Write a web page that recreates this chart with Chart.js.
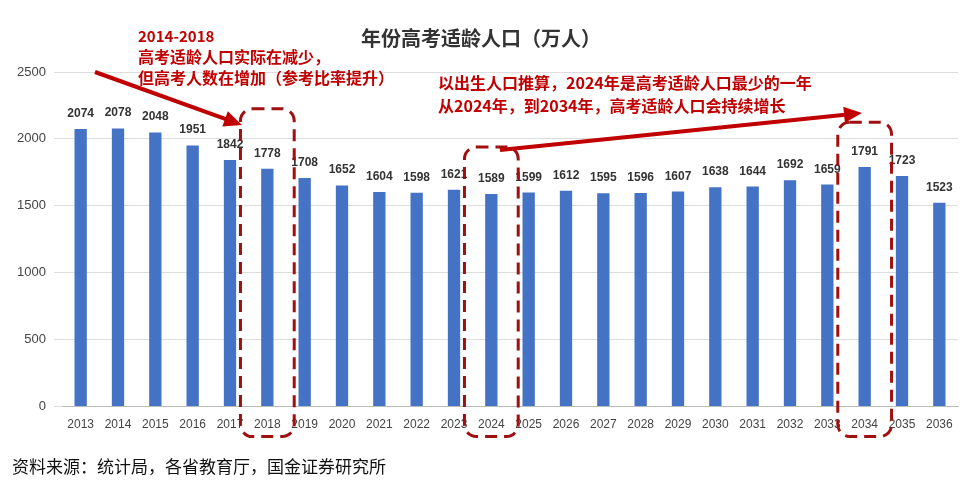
<!DOCTYPE html>
<html><head><meta charset="utf-8">
<script src="https://cdn.jsdelivr.net/npm/chart.js@4"></script>
<style>body{margin:0;background:#fff}#wrap{width:976px;height:480px}</style>
</head><body><div id="wrap"><canvas id="c"></canvas></div>
<script>
const years = ["2013","2014","2015","2016","2017","2018","2019","2020","2021","2022","2023","2024","2025","2026","2027","2028","2029","2030","2031","2032","2033","2034","2035","2036"];
const population = [2074,2078,2048,1951,1842,1778,1708,1652,1604,1598,1621,1589,1599,1612,1595,1596,1607,1638,1644,1692,1659,1791,1723,1523];
const yTicks = [0,500,1000,1500,2000,2500];
// highlighted boxes: category index and top value
const boxes = [{i:5, top:2225}, {i:11, top:1940}, {i:21, top:2125}];
const RED = "#c00000";

const overlay = {
  id: "overlay",
  afterDraw(chart) {
    const {ctx, chartArea: a, scales: {x, y}} = chart;
    const step = x.getPixelForValue(1) - x.getPixelForValue(0);
    ctx.save();
    ctx.strokeStyle = "#a01010";
    ctx.lineWidth = 3;
    ctx.setLineDash([12, 7]);
    boxes.forEach(b => {
      const cx = x.getPixelForValue(b.i);
      const l = cx - step * 0.72, r = cx + step * 0.72;
      const t = y.getPixelForValue(b.top), bt = a.bottom + 30;
      ctx.beginPath();
      ctx.roundRect(l, t, r - l, bt - t, 12);
      ctx.stroke();
    });
    ctx.setLineDash([]);
    const arrow = (x1, y1, x2, y2) => {
      ctx.strokeStyle = RED; ctx.fillStyle = RED; ctx.lineWidth = 4;
      const ang = Math.atan2(y2 - y1, x2 - x1);
      ctx.beginPath(); ctx.moveTo(x1, y1);
      ctx.lineTo(x2 - 12 * Math.cos(ang), y2 - 12 * Math.sin(ang)); ctx.stroke();
      ctx.beginPath(); ctx.moveTo(x2, y2);
      ctx.lineTo(x2 - 18 * Math.cos(ang) + 8 * Math.sin(ang), y2 - 18 * Math.sin(ang) - 8 * Math.cos(ang));
      ctx.lineTo(x2 - 18 * Math.cos(ang) - 8 * Math.sin(ang), y2 - 18 * Math.sin(ang) + 8 * Math.cos(ang));
      ctx.closePath(); ctx.fill();
    };
    arrow(95, 72, 242, 125);
    arrow(500, 150, 862, 113);
    ctx.fillStyle = RED;
    ctx.textBaseline = "middle";
    ctx.font = "bold 15px 'Noto Sans CJK SC'";
    ctx.fillText("2014-2018", 138, 36);
    ctx.font = "bold 16px 'Noto Sans CJK SC'";
    ctx.fillText("高考适龄人口实际在减少，", 138, 57);
    ctx.fillText("但高考人数在增加（参考比率提升）", 138, 78);
    ctx.fillText("以出生人口推算，2024年是高考适龄人口最少的一年", 438, 83);
    ctx.fillText("从2024年，到2034年，高考适龄人口会持续增长", 438, 106);
    ctx.fillStyle = "#111";
    ctx.font = "17px 'Noto Sans CJK SC'";
    ctx.fillText("资料来源：统计局，各省教育厅，国金证券研究所", 12, 467);
    ctx.restore();
  }
};

const labels = {
  id: "labels",
  afterDatasetsDraw(chart) {
    const {ctx} = chart;
    const meta = chart.getDatasetMeta(0);
    ctx.save();
    ctx.font = "bold 12px 'Liberation Sans'";
    ctx.fillStyle = "#333";
    ctx.textAlign = "center";
    meta.data.forEach((bar, i) => ctx.fillText(population[i], bar.x, bar.y - 12));
    ctx.restore();
  }
};

new Chart(document.getElementById("c"), {
  type: "bar",
  data: {labels: years, datasets: [{data: population, backgroundColor: "#4472c4", barPercentage: 0.33, categoryPercentage: 1}]},
  options: {
    responsive: true, maintainAspectRatio: false, animation: false,
    layout: {padding: {top: 20, right: 18, bottom: 45, left: 4}},
    plugins: {
      legend: {display: false}, tooltip: {enabled: false},
      title: {display: true, text: "年份高考适龄人口（万人）", color: "#333", font: {size: 20, weight: "bold", family: "'Noto Sans CJK SC'"}, padding: {top: 6, bottom: 22}}
    },
    scales: {
      x: {grid: {display: false}, border: {color: "#bbb"}, ticks: {color: "#444", font: {size: 12, family: "'Liberation Sans'"}, maxRotation: 0, autoSkip: false}},
      y: {min: 0, max: 2500, afterBuildTicks: ax => { ax.ticks = yTicks.map(v => ({value: v})); }, afterFit: ax => { ax.width = 58; },
          grid: {color: "#ddd"}, border: {display: false}, ticks: {color: "#444", font: {size: 13, family: "'Liberation Sans'"}, padding: 8, callback: v => String(v)}}
    }
  },
  plugins: [labels, overlay]
});
</script></body></html>
